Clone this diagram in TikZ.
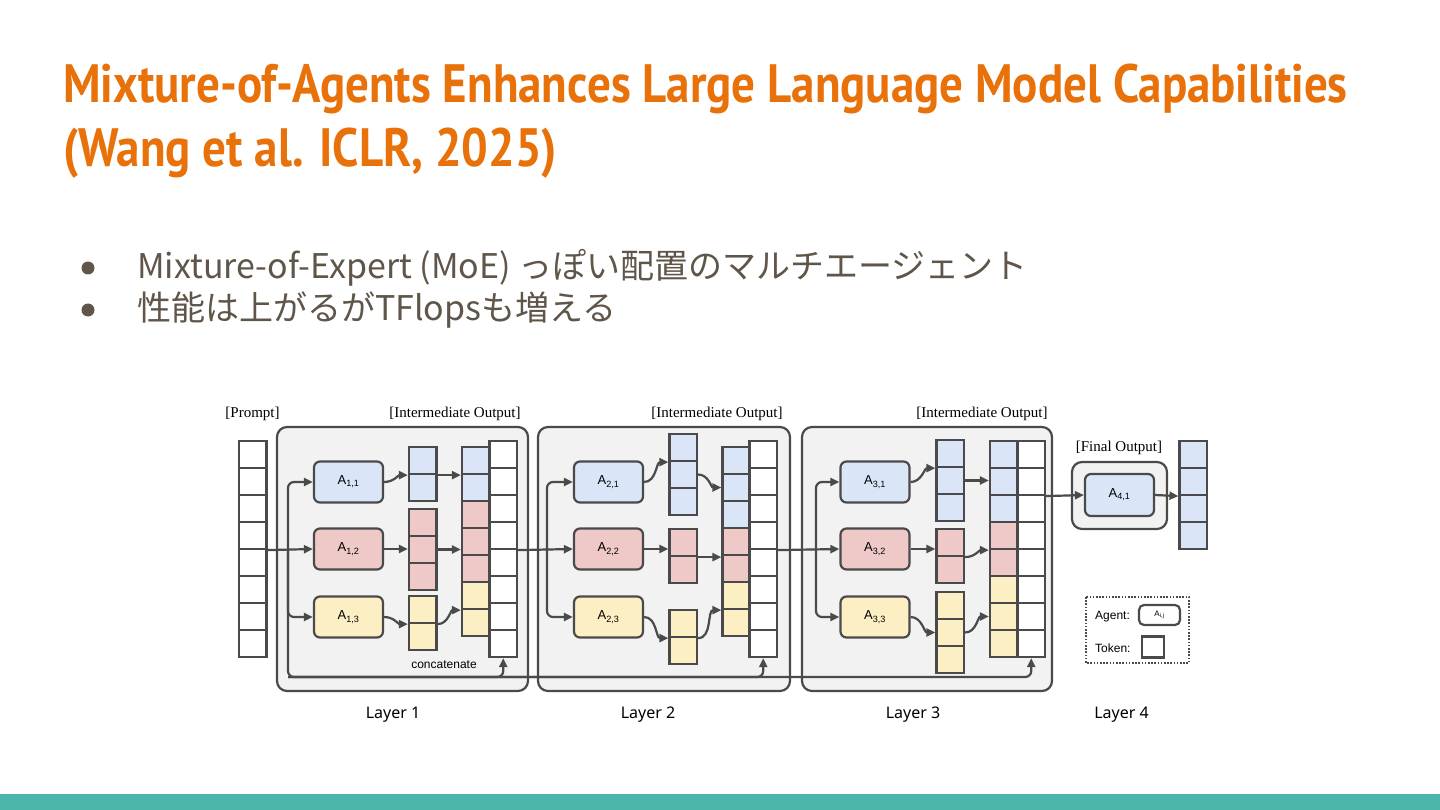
\documentclass[tikz,border=0pt]{standalone}
\usepackage{fontspec}
\setmainfont{Liberation Serif}
\newfontfamily\titlefont[FakeStretch=0.87]{PT Sans}
\newfontfamily\jpfont{Noto Sans CJK JP}
\newfontfamily\hvfont{Liberation Sans}
\newfontfamily\layerfont{Noto Sans}
\usetikzlibrary{arrows.meta}
\definecolor{moeorange}{HTML}{E8710A}
\definecolor{moetext}{HTML}{5F5549}
\definecolor{moeteal}{HTML}{4DB6AC}
\definecolor{moeline}{HTML}{4A4A4A}
\definecolor{moeblue}{HTML}{DAE6F8}
\definecolor{moepink}{HTML}{EFC8C8}
\definecolor{moeyellow}{HTML}{FDEFC4}
\definecolor{moegray}{HTML}{F2F2F2}
\tikzset{
  cell/.style={draw=moeline,line width=2.2pt,minimum width=27.5pt,minimum height=27pt,inner sep=0pt},
  agent/.style={draw=moeline,line width=2.2pt,rounded corners=6pt,minimum width=69pt,minimum height=41pt,inner sep=0pt,font=\hvfont\fontsize{13}{15}\selectfont},
  layerbox/.style={draw=moeline,line width=2.2pt,fill=moegray,rounded corners=10pt},
  arr/.style={draw=moeline,line width=2.2pt,-{Triangle[length=9pt,width=8pt]}},
  tag/.style={font=\fontsize{15}{17}\selectfont,anchor=base,inner sep=0pt},
  layertag/.style={font=\layerfont\fontsize{16}{18}\selectfont,anchor=base,inner sep=0pt},
}
\newcommand{\tokcol}[4]{%
  \foreach \fc [count=\i] in {#4}
    \node[cell,fill=\fc] (#1-\i) at ({#2+13.75},{#3+13.5+27*(\i-1)}) {};}

\begin{document}
\begin{tikzpicture}[x=1pt,y=-1pt]
  \useasboundingbox[fill=white] (0,0) rectangle (1440,810);
  \fill[moeteal] (0,794) rectangle (1440,810);
  \node[anchor=base west,inner sep=0pt,text=moeorange,font=\titlefont\bfseries\fontsize{54}{64}\selectfont] (title1) at (63,103) {Mixture-of-Agents Enhances Large Language Model Capabilities};
  \node[anchor=base west,inner sep=0pt,text=moeorange,font=\titlefont\bfseries\fontsize{54}{64}\selectfont] (title2) at (63,167) {(Wang et al. ICLR, 2025)};
  \fill[moetext] (88,268) circle (6.5pt);
  \fill[moetext] (88,310) circle (6.5pt);
  \node[anchor=base west,inner sep=0pt,text=moetext,font=\jpfont\fontsize{34}{40}\selectfont] (item1) at (137,279) {Mixture-of-Expert (MoE) っぽい配置のマルチエージェント};
  \node[anchor=base west,inner sep=0pt,text=moetext,font=\jpfont\fontsize{34}{40}\selectfont] (item2) at (137,320) {性能は上がるがTFlopsも増える};

  \draw[layerbox] (277,427) rectangle (528,691);
  \draw[layerbox] (538,427) rectangle (790,691);
  \draw[layerbox] (802,427) rectangle (1052,691);
  \draw[layerbox] (1072,462) rectangle (1167,529);

  \foreach \l/\ax in {1/348.5,2/608.5,3/875}
    \foreach \y/\fc [count=\j] in {482/moeblue,549/moepink,617/moeyellow}
      \node[agent,fill=\fc] (A\l\j) at (\ax,\y) {A\textsubscript{\l,\j}};
  \node[agent,fill=moeblue,minimum height=42pt] (A41) at (1119.5,495) {A\textsubscript{4,1}};

  \tokcol{P}{239}{441}{white,white,white,white,white,white,white,white}
  \tokcol{o11}{409}{447}{moeblue,moeblue}
  \tokcol{o12}{409}{509}{moepink,moepink,moepink}
  \tokcol{o13}{409}{596}{moeyellow,moeyellow}
  \tokcol{k1}{462}{447}{moeblue,moeblue,moepink,moepink,moepink,moeyellow,moeyellow}
  \tokcol{w1}{489.5}{441}{white,white,white,white,white,white,white,white}
  \tokcol{o21}{669.5}{434}{moeblue,moeblue,moeblue}
  \tokcol{o22}{669.5}{529}{moepink,moepink}
  \tokcol{o23}{669.5}{610}{moeyellow,moeyellow}
  \tokcol{k2}{722.5}{447}{moeblue,moeblue,moeblue,moepink,moepink,moeyellow,moeyellow}
  \tokcol{w2}{749.5}{441}{white,white,white,white,white,white,white,white}
  \tokcol{o31}{936.5}{440}{moeblue,moeblue,moeblue}
  \tokcol{o32}{936.5}{529}{moepink,moepink}
  \tokcol{o33}{936.5}{592}{moeyellow,moeyellow,moeyellow}
  \tokcol{k3}{990}{441}{moeblue,moeblue,moeblue,moepink,moepink,moeyellow,moeyellow,moeyellow}
  \tokcol{w3}{1017.5}{441}{white,white,white,white,white,white,white,white}
  \tokcol{f}{1179.5}{441}{moeblue,moeblue,moeblue,moeblue}

  \coordinate (t1) at (288,549);
  \coordinate (fb) at (288,677);
  \draw[arr] (P-4.south east) -- (A12.west);
  \draw[arr,rounded corners=6pt] (t1) |- (A11.west);
  \draw[arr,rounded corners=6pt] (t1) |- (A13.west);
  \draw[arr,rounded corners=6pt] (t1) -- (fb) -| (w1-8.south);
  \draw[arr,rounded corners=6pt] (fb) -| (w2-8.south);
  \draw[arr,rounded corners=6pt] (fb) -| (w3-8.south);
  \draw[arr] (A11.east) to[out=0,in=180] (o11-1.south west);
  \draw[arr] (o11-1.south east) -- (k1-1.south west);
  \draw[arr] (A12.east) -- (A12.east -| o12-2.west);
  \draw[arr] (o12-2.east) -- (o12-2.east -| k1-4.west);
  \draw[arr] (A13.east) to[out=0,in=180] (o13-1.south west);
  \draw[arr] (o13-1.south east) to[out=0,in=180] (k1-6.south west);

  \coordinate (t2) at (547,549);
  \draw[arr] (w1-4.south east) -- (A22.west);
  \draw[arr,rounded corners=6pt] (t2) |- (A21.west);
  \draw[arr,rounded corners=6pt] (t2) |- (A23.west);
  \draw[arr] (A21.east) to[out=0,in=180] (o21-1.south west);
  \draw[arr] (o21-2.east) to[out=0,in=180] (k2-2.west);
  \draw[arr] (A22.east) -- (A22.east -| o22-1.west);
  \draw[arr] (o22-1.south east) -- (o22-1.south east -| k2-4.west);
  \draw[arr] (A23.east) to[out=0,in=180] (o23-1.south west);
  \draw[arr] (o23-1.south east) to[out=0,in=180] (k2-6.south west);

  \coordinate (t3) at (816,549);
  \draw[arr] (w2-4.south east) -- (A32.west);
  \draw[arr,rounded corners=6pt] (t3) |- (A31.west);
  \draw[arr,rounded corners=6pt] (t3) |- (A33.west);
  \draw[arr] (A31.east) to[out=0,in=180] (o31-1.south west);
  \draw[arr] (o31-2.east) -- (o31-2.east -| k3-2.west);
  \draw[arr] (A32.east) -- (A32.east -| o32-1.west);
  \draw[arr] (o32-1.south east) to[out=0,in=180] (k3-4.south west);
  \draw[arr] (A33.east) to[out=0,in=180] (o33-2.west);
  \draw[arr] (o33-2.east) to[out=0,in=180] (k3-7.west);

  \draw[arr] (w3-2.south east) -- (A41.west);
  \draw[arr] (A41.east) -- (f-2.south west);

  \draw[moeline,line width=1.8pt,dash pattern=on 1.6pt off 1.6pt] (1086,597) rectangle (1189,663);
  \node[anchor=base west,inner sep=0pt,font=\hvfont\fontsize{12}{14}\selectfont] (agentkey) at (1095,619) {Agent:};
  \node[agent,minimum width=41pt,minimum height=20pt,rounded corners=5pt,font=\hvfont\fontsize{8}{9}\selectfont] (agentbox) at (1159.5,615) {A\textsubscript{i,j}};
  \node[anchor=base west,inner sep=0pt,font=\hvfont\fontsize{12}{14}\selectfont] (tokenkey) at (1095,652.5) {Token:};
  \node[cell,minimum width=22pt,minimum height=21pt] (tokenbox) at (1153,647) {};

  \node[tag] (prompt) at (252.5,417) {[Prompt]};
  \node[tag] (inter1) at (455,417) {[Intermediate Output]};
  \node[tag] (inter2) at (717,417) {[Intermediate Output]};
  \node[tag] (inter3) at (982,417) {[Intermediate Output]};
  \node[tag] (final) at (1119,451) {[Final Output]};
  \node[anchor=base,inner sep=0pt,font=\hvfont\fontsize{12}{14}\selectfont] (concat) at (444,668) {concatenate};
  \node[layertag] (layer1) at (393,718) {Layer 1};
  \node[layertag] (layer2) at (648,718) {Layer 2};
  \node[layertag] (layer3) at (913,718) {Layer 3};
  \node[layertag] (layer4) at (1121.5,718) {Layer 4};
\end{tikzpicture}
\end{document}
